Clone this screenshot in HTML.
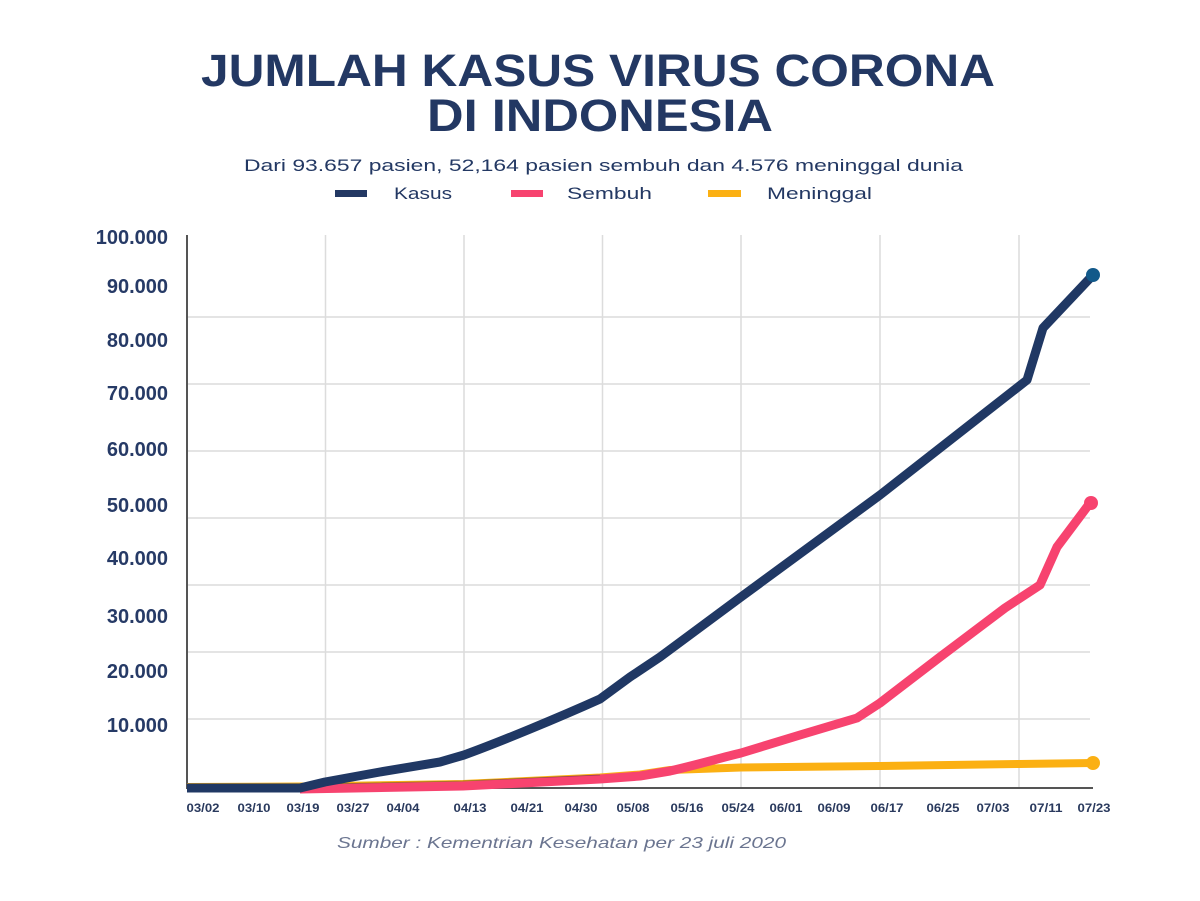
<!DOCTYPE html>
<html><head><meta charset="utf-8">
<style>
html,body{margin:0;padding:0;background:#fff;}
svg{display:block;}
text{font-family:"Liberation Sans",sans-serif;}
</style></head>
<body>
<svg width="1200" height="901" viewBox="0 0 1200 901" xmlns="http://www.w3.org/2000/svg">
<rect width="1200" height="901" fill="#fff"/>
<!-- Title -->
<text x="201" y="86" font-size="45" font-weight="bold" fill="#233863" textLength="794" lengthAdjust="spacingAndGlyphs">JUMLAH KASUS VIRUS CORONA</text>
<text x="427" y="131" font-size="45" font-weight="bold" fill="#233863" textLength="346" lengthAdjust="spacingAndGlyphs">DI INDONESIA</text>
<text x="244" y="171" font-size="17" fill="#233863" textLength="719" lengthAdjust="spacingAndGlyphs">Dari 93.657 pasien, 52,164 pasien sembuh dan 4.576 meninggal dunia</text>
<!-- Legend -->
<rect x="335" y="190" width="32" height="7" fill="#233863"/>
<text x="394" y="199" font-size="17" fill="#233863" textLength="58" lengthAdjust="spacingAndGlyphs">Kasus</text>
<rect x="511" y="190" width="32" height="7" fill="#f7436f"/>
<text x="567" y="199" font-size="17" fill="#233863" textLength="85" lengthAdjust="spacingAndGlyphs">Sembuh</text>
<rect x="708" y="190" width="33" height="7" fill="#fbb013"/>
<text x="767" y="199" font-size="17" fill="#233863" textLength="105" lengthAdjust="spacingAndGlyphs">Meninggal</text>

<!-- Grid -->
<g stroke="#dcdcdc" stroke-width="1.5">
<line x1="187" y1="317" x2="1090" y2="317"/>
<line x1="187" y1="384" x2="1090" y2="384"/>
<line x1="187" y1="451" x2="1090" y2="451"/>
<line x1="187" y1="518" x2="1090" y2="518"/>
<line x1="187" y1="585" x2="1090" y2="585"/>
<line x1="187" y1="652" x2="1090" y2="652"/>
<line x1="187" y1="719" x2="1090" y2="719"/>
<line x1="325.5" y1="235" x2="325.5" y2="788"/>
<line x1="464" y1="235" x2="464" y2="788"/>
<line x1="602.5" y1="235" x2="602.5" y2="788"/>
<line x1="741" y1="235" x2="741" y2="788"/>
<line x1="880" y1="235" x2="880" y2="788"/>
<line x1="1019" y1="235" x2="1019" y2="788"/>
</g>
<!-- Axes -->
<line x1="187" y1="235" x2="187" y2="789" stroke="#555" stroke-width="2"/>
<line x1="186" y1="788" x2="1093" y2="788" stroke="#555" stroke-width="2"/>

<!-- Y labels -->
<g font-size="20" font-weight="bold" fill="#263a66" text-anchor="end">
<text x="168" y="244">100.000</text>
<text x="168" y="293">90.000</text>
<text x="168" y="347">80.000</text>
<text x="168" y="400">70.000</text>
<text x="168" y="456">60.000</text>
<text x="168" y="512">50.000</text>
<text x="168" y="565">40.000</text>
<text x="168" y="623">30.000</text>
<text x="168" y="678">20.000</text>
<text x="168" y="732">10.000</text>
</g>

<!-- Series -->
<path d="M187,787 L300,786.5 L463,784 L600,777.5 L640,774.5 L670,770 L741,767.5 L880,766 L1019,764 L1093,763" fill="none" stroke="#fbb013" stroke-width="8" stroke-linejoin="round"/>
<path d="M300,789 L463,786 L600,779 L640,776 L670,771 C700,764 720,758 741,753 L800,735 L857,718 L880,703 L940,657 L1005,608 L1040,585 L1057,547 L1090,503" fill="none" stroke="#f7436f" stroke-width="9" stroke-linejoin="round"/>
<path d="M300,784.5 L463,781 L600,775" fill="none" stroke="#333" stroke-width="0.8" opacity="0.5"/>
<path d="M187,788 L300,788 L325,782 L380,772 L440,762 L464,755 C500,742 560,717 600,699 L630,677 L660,657 L741,597 L880,495 L1027,380 L1043,328 L1093,275" fill="none" stroke="#203864" stroke-width="9" stroke-linejoin="round"/>
<circle cx="1093" cy="275" r="7" fill="#12598a"/>
<circle cx="1091" cy="503" r="7" fill="#f7436f"/>
<circle cx="1093" cy="763" r="7" fill="#fbb013"/>

<!-- X labels -->
<g font-size="12" font-weight="bold" fill="#2a3a5e" text-anchor="middle">
<text x="203" y="812" textLength="33" lengthAdjust="spacingAndGlyphs">03/02</text>
<text x="254" y="812" textLength="33" lengthAdjust="spacingAndGlyphs">03/10</text>
<text x="303" y="812" textLength="33" lengthAdjust="spacingAndGlyphs">03/19</text>
<text x="353" y="812" textLength="33" lengthAdjust="spacingAndGlyphs">03/27</text>
<text x="403" y="812" textLength="33" lengthAdjust="spacingAndGlyphs">04/04</text>
<text x="470" y="812" textLength="33" lengthAdjust="spacingAndGlyphs">04/13</text>
<text x="527" y="812" textLength="33" lengthAdjust="spacingAndGlyphs">04/21</text>
<text x="581" y="812" textLength="33" lengthAdjust="spacingAndGlyphs">04/30</text>
<text x="633" y="812" textLength="33" lengthAdjust="spacingAndGlyphs">05/08</text>
<text x="687" y="812" textLength="33" lengthAdjust="spacingAndGlyphs">05/16</text>
<text x="738" y="812" textLength="33" lengthAdjust="spacingAndGlyphs">05/24</text>
<text x="786" y="812" textLength="33" lengthAdjust="spacingAndGlyphs">06/01</text>
<text x="834" y="812" textLength="33" lengthAdjust="spacingAndGlyphs">06/09</text>
<text x="887" y="812" textLength="33" lengthAdjust="spacingAndGlyphs">06/17</text>
<text x="943" y="812" textLength="33" lengthAdjust="spacingAndGlyphs">06/25</text>
<text x="993" y="812" textLength="33" lengthAdjust="spacingAndGlyphs">07/03</text>
<text x="1046" y="812" textLength="33" lengthAdjust="spacingAndGlyphs">07/11</text>
<text x="1094" y="812" textLength="33" lengthAdjust="spacingAndGlyphs">07/23</text>
</g>

<!-- Source -->
<text x="337" y="848" font-size="16" font-style="italic" fill="#6b7590" textLength="449" lengthAdjust="spacingAndGlyphs">Sumber : Kementrian Kesehatan per 23 juli 2020</text>
</svg>
</body></html>
